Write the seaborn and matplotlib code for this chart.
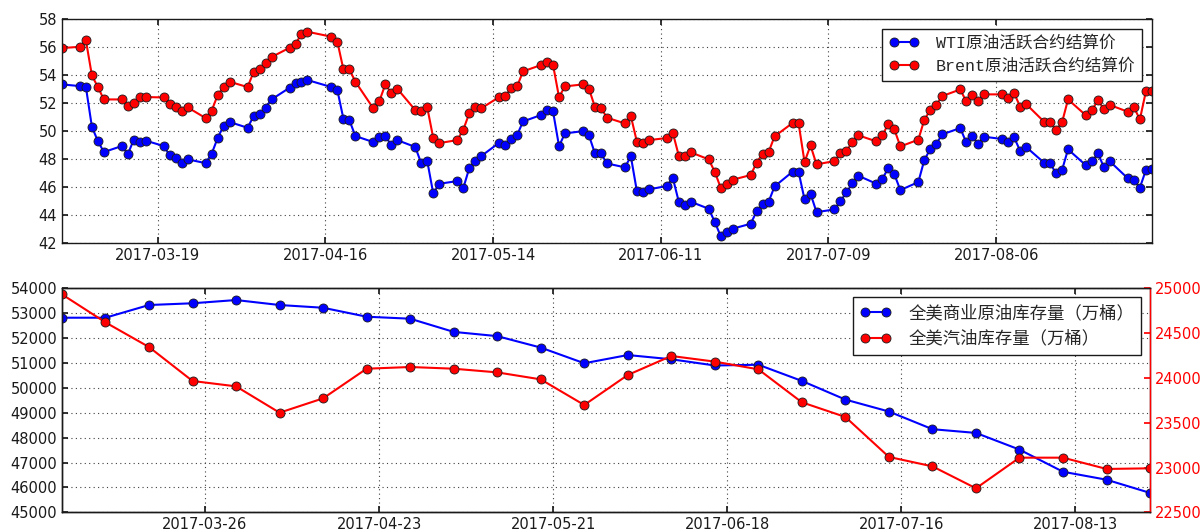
import numpy as np
import pandas as pd
import matplotlib
matplotlib.use('Agg')
import matplotlib.pyplot as plt
import seaborn as sns

# daily settlement prices (trading days 2017-03-03 .. 2017-09-01, no Good Friday)
wti = [53.32, 53.20, 53.13, 50.30, 49.28, 48.50, 48.93, 48.36, 49.38, 49.21, 49.31,
       48.93, 48.26, 48.05, 47.74, 47.98, 47.71, 48.38, 49.50, 50.38, 50.64,
       50.23, 51.06, 51.18, 51.66, 52.25, 53.08, 53.39, 53.51, 53.63, 53.13,
       52.89, 50.87, 50.76, 49.64, 49.21, 49.54, 49.62, 49.00, 49.35,
       48.86, 47.69, 47.86, 45.55, 46.24, 46.43, 45.91, 47.33, 47.86, 48.21,
       49.16, 49.00, 49.43, 49.71, 50.68, 51.14, 51.52, 51.40, 48.93, 49.83,
       49.99, 49.69, 48.40,
       48.40, 47.69, 47.41, 48.19, 45.72, 45.65, 45.84, 46.08, 46.67, 44.96,
       44.70, 44.96, 44.46, 43.53, 42.51, 42.80, 43.04, 43.39, 44.27, 44.79,
       44.96, 46.05,
       47.10, 47.10, 45.13, 45.53, 44.22, 44.41, 45.01, 45.62, 46.29, 46.81,
       46.24, 46.60, 47.36, 46.91, 45.79, 46.36, 47.93, 48.71, 49.09, 49.76,
       50.21,
       49.19, 49.64, 49.07, 49.59, 49.43, 49.19, 49.54, 48.59, 48.86, 47.74,
       47.71, 46.98, 47.22, 48.69, 47.55, 47.83, 48.40, 47.41, 47.83, 46.62,
       46.48, 45.96, 47.22, 47.26]
brent = [55.91, 56.00, 56.46, 53.96, 53.13, 52.25, 52.25, 51.80, 51.99, 52.39, 52.42,
         52.39, 51.94, 51.73, 51.42, 51.68, 50.92, 51.44, 52.56, 53.13, 53.51,
         53.13, 54.20, 54.39, 54.86, 55.27, 55.93, 56.19, 56.93, 57.07, 56.72,
         56.34, 54.39, 54.39, 53.51, 51.61, 52.13, 53.32, 52.70, 53.01,
         51.49, 51.42, 51.68, 49.50, 49.14, 49.35, 50.07, 51.25, 51.68, 51.61,
         52.42, 52.49, 53.04, 53.18, 54.25, 54.70, 54.94, 54.72, 52.42, 53.18,
         53.32, 53.01, 51.71,
         51.66, 50.95, 50.54, 51.06, 49.24, 49.12, 49.35, 49.50, 49.88, 48.24,
         48.19, 48.48, 47.98, 47.10, 45.96, 46.24, 46.53, 46.86, 47.74, 48.38,
         48.50, 49.62,
         50.57, 50.57, 47.79, 48.97, 47.62, 47.86, 48.40, 48.59, 49.21, 49.69,
         49.26, 49.69, 50.52, 50.11, 48.90, 49.38, 50.80, 51.49, 51.87, 52.49,
         52.96,
         52.11, 52.54, 52.11, 52.61, 52.61, 52.37, 52.70, 51.73, 51.92, 50.66,
         50.64, 50.07, 50.61, 52.25, 51.11, 51.49, 52.20, 51.54, 51.85, 51.37,
         51.68, 50.83, 52.82, 52.82]
days = pd.bdate_range('2017-03-03', '2017-09-01').drop(pd.Timestamp('2017-04-14'))

# weekly US stocks (10k barrels), Fridays
crude_stock = [52820, 52820, 53330, 53400, 53530, 53330, 53220, 52860, 52780, 52250,
               52080, 51620, 50990, 51320, 51150, 50900, 50930, 50280, 49530, 49050,
               48340, 48190, 47520, 46630, 46310, 45780]
gasoline_stock = [24933, 24620, 24345, 23966, 23906, 23612, 23772, 24103, 24122, 24103,
                  24062, 23984, 23698, 24033, 24245, 24182, 24096, 23728, 23564, 23118,
                  23013, 22768, 23110, 23110, 22984, 22991]
weeks = pd.date_range('2017-03-03', '2017-08-25', freq='W-FRI')

top_ticks = ['2017-03-19', '2017-04-16', '2017-05-14', '2017-06-11', '2017-07-09', '2017-08-06']
bottom_ticks = ['2017-03-26', '2017-04-23', '2017-05-21', '2017-06-18', '2017-07-16', '2017-08-13']

BLUE = '#0000ff'
RED = '#ff0000'

sns.set_theme(style='white', rc={
    'axes.grid': True, 'grid.linestyle': (0, (1, 3)), 'grid.color': '0.25', 'grid.linewidth': 0.8,
    'axes.edgecolor': 'k', 'axes.linewidth': 1.0,
    'xtick.direction': 'in', 'ytick.direction': 'in',
    'xtick.top': True, 'ytick.right': True,
    'xtick.bottom': True, 'ytick.left': True,
    'xtick.major.size': 4, 'ytick.major.size': 4,
    'xtick.color': 'k', 'ytick.color': 'k',
    'font.size': 10.5, 'xtick.labelsize': 10.5, 'ytick.labelsize': 10.5,
})
plt.rcParams['font.family'] = ['DejaVu Sans', 'Noto Sans CJK SC']

fig = plt.figure(figsize=(12.03, 5.32), dpi=100)
ax1 = fig.add_axes([0.0515, 0.5427, 0.906, 0.4221])
ax2 = fig.add_axes([0.0515, 0.037, 0.9045, 0.421])

line_kw = dict(marker='o', markersize=6.5, markeredgecolor='k', markeredgewidth=0.6,
               linewidth=1.5)

# top: prices
sns.lineplot(x=days, y=wti, color=BLUE, label='WTI原油活跃合约结算价', ax=ax1, **line_kw)
sns.lineplot(x=days, y=brent, color=RED, label='Brent原油活跃合约结算价', ax=ax1, **line_kw)
ax1.set_xlim(days[0], days[-1])
ax1.set_ylim(42, 58)
ax1.set_yticks(np.arange(42, 59, 2))
ax1.set_xticks(pd.to_datetime(top_ticks))
ax1.set_xticklabels(top_ticks)
ax1.set_xlabel('')
ax1.set_ylabel('')
ax1.legend(loc='upper right', numpoints=2, fancybox=False, framealpha=1, edgecolor='k',
           handlelength=1.8, handletextpad=1.0, borderaxespad=0.6, labelspacing=0.45,
           prop={'family': ['Liberation Mono', 'Noto Sans CJK SC'], 'size': 12})

# bottom: stocks with twin axis
sns.lineplot(x=weeks, y=crude_stock, color=BLUE, label='全美商业原油库存量（万桶）', ax=ax2, **line_kw)
ax2.set_xlim(weeks[0], weeks[-1])
ax2.set_ylim(45000, 54000)
ax2.set_yticks(np.arange(45000, 54001, 1000))
ax2.set_xticks(pd.to_datetime(bottom_ticks))
ax2.set_xticklabels(bottom_ticks)
ax2.set_xlabel('')
ax2.set_ylabel('')
ax2.tick_params(axis='y', right=False)

ax3 = ax2.twinx()
sns.lineplot(x=weeks, y=gasoline_stock, color=RED, label='全美汽油库存量（万桶）', ax=ax3, **line_kw)
ax3.grid(False)
ax3.set_ylim(22500, 25000)
ax3.set_yticks(np.arange(22500, 25001, 500))
ax3.set_ylabel('')
ax3.tick_params(axis='y', colors=RED, direction='in', left=False, right=True)
ax3.spines['right'].set_color(RED)
ax3.set_xlim(weeks[0], weeks[-1])

h1, l1 = ax2.get_legend_handles_labels()
h2, l2 = ax3.get_legend_handles_labels()
ax2.get_legend().remove()
ax3.legend(h1 + h2, l1 + l2, loc='upper right', numpoints=2, fancybox=False, framealpha=1,
           edgecolor='k', handlelength=1.8, handletextpad=1.0, borderaxespad=0.5,
           labelspacing=0.45, fontsize=12.5)

fig.savefig('out.png', dpi=100, facecolor='white')
